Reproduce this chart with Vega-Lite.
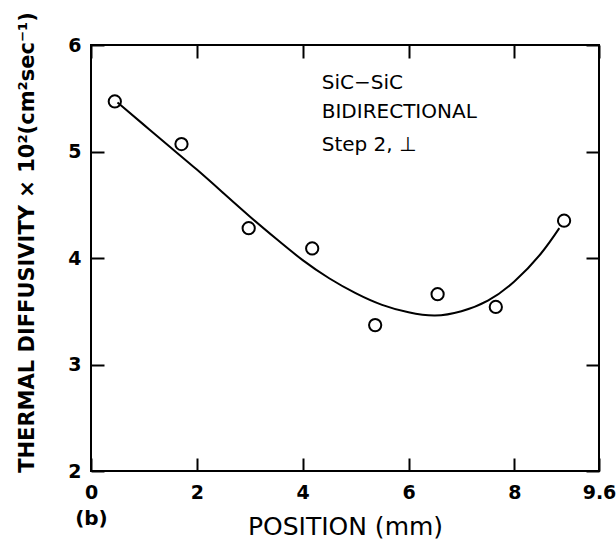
{
  "$schema": "https://vega.github.io/schema/vega-lite/v6.json",
  "width": 508,
  "height": 426,
  "autosize": "none",
  "padding": {"left": 91, "top": 45, "right": 17, "bottom": 72},
  "background": "white",
  "config": {
    "view": {"stroke": "black", "strokeWidth": 2},
    "axis": {
      "domain": false,
      "grid": false,
      "tickColor": "black",
      "tickWidth": 2,
      "tickSize": -13,
      "labelColor": "black",
      "labelFont": "DejaVu Sans",
      "labelFontSize": 19,
      "labelFontWeight": "bold",
      "titleColor": "black",
      "titleFont": "DejaVu Sans",
      "titleFontWeight": "bold"
    }
  },
  "datasets": {
    "points": [
      {"position": 0.45, "diffusivity": 5.47},
      {"position": 1.71, "diffusivity": 5.07},
      {"position": 2.98, "diffusivity": 4.28},
      {"position": 4.18, "diffusivity": 4.09},
      {"position": 5.37, "diffusivity": 3.37},
      {"position": 6.55, "diffusivity": 3.66},
      {"position": 7.65, "diffusivity": 3.54},
      {"position": 8.94, "diffusivity": 4.35}
    ],
    "curve": [
      {"position": 0.5, "diffusivity": 5.46},
      {"position": 1.0, "diffusivity": 5.25},
      {"position": 1.5, "diffusivity": 5.04},
      {"position": 2.0, "diffusivity": 4.83},
      {"position": 2.5, "diffusivity": 4.61},
      {"position": 3.0, "diffusivity": 4.39},
      {"position": 3.5, "diffusivity": 4.18},
      {"position": 4.0, "diffusivity": 3.98},
      {"position": 4.5, "diffusivity": 3.81},
      {"position": 5.0, "diffusivity": 3.67},
      {"position": 5.5, "diffusivity": 3.56},
      {"position": 6.0, "diffusivity": 3.49},
      {"position": 6.5, "diffusivity": 3.46},
      {"position": 7.0, "diffusivity": 3.5},
      {"position": 7.5, "diffusivity": 3.6},
      {"position": 8.0, "diffusivity": 3.78},
      {"position": 8.5, "diffusivity": 4.04},
      {"position": 8.85, "diffusivity": 4.28}
    ],
    "notes": [
      {"position": 4.36, "diffusivity": 5.64, "label": "SiC−SiC"},
      {"position": 4.36, "diffusivity": 5.37, "label": "BIDIRECTIONAL"},
      {"position": 4.36, "diffusivity": 5.06, "label": "Step 2, ⊥"}
    ],
    "panel": [
      {"position": -0.3, "diffusivity": 1.55, "label": "(b)"}
    ]
  },
  "resolve": {"axis": {"x": "independent", "y": "independent"}},
  "layer": [
    {
      "data": {"name": "curve"},
      "mark": {"type": "line", "interpolate": "natural", "color": "black", "strokeWidth": 2},
      "encoding": {
        "x": {
          "field": "position", "type": "quantitative",
          "scale": {"domain": [0, 9.6], "nice": false, "zero": false},
          "axis": {"orient": "bottom", "values": [0, 2, 4, 6, 8, 9.6], "format": ".1~f", "labelPadding": 25, "labelFlush": false,
                   "title": "POSITION (mm)", "titleFontSize": 25, "titleFontWeight": "normal", "titlePadding": 12}
        },
        "y": {
          "field": "diffusivity", "type": "quantitative",
          "scale": {"domain": [2, 6], "nice": false, "zero": false},
          "axis": {"orient": "left", "values": [2, 3, 4, 5, 6], "format": ".0f", "labelPadding": 23, "labelFlush": false,
                   "title": "THERMAL DIFFUSIVITY × 10²(cm²sec⁻¹)", "titleFontSize": 21, "titlePadding": 30, "titleY": 197}
        }
      }
    },
    {
      "data": {"name": "points"},
      "mark": {"type": "point", "shape": "circle", "filled": false, "color": "black", "opacity": 1, "strokeWidth": 2, "size": 150},
      "encoding": {
        "x": {"field": "position", "type": "quantitative",
              "axis": {"orient": "top", "values": [0, 2, 4, 6, 8, 9.6], "labels": false, "title": null}},
        "y": {"field": "diffusivity", "type": "quantitative",
              "axis": {"orient": "right", "values": [2, 3, 4, 5, 6], "labels": false, "title": null}}
      }
    },
    {
      "data": {"name": "notes"},
      "mark": {"type": "text", "align": "left", "baseline": "middle", "font": "DejaVu Sans, Noto Sans CJK JP", "fontSize": 20, "color": "black"},
      "encoding": {
        "x": {"field": "position", "type": "quantitative", "axis": null},
        "y": {"field": "diffusivity", "type": "quantitative", "axis": null},
        "text": {"field": "label"}
      }
    },
    {
      "data": {"name": "panel"},
      "mark": {"type": "text", "align": "left", "baseline": "middle", "font": "DejaVu Sans", "fontSize": 20, "fontWeight": "bold", "color": "black"},
      "encoding": {
        "x": {"field": "position", "type": "quantitative", "axis": null},
        "y": {"field": "diffusivity", "type": "quantitative", "axis": null},
        "text": {"field": "label"}
      }
    }
  ]
}
